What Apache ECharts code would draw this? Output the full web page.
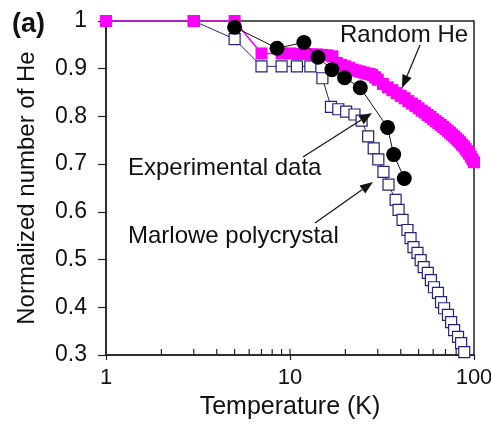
<!DOCTYPE html>
<html>
<head>
<meta charset="utf-8">
<script src="https://cdn.jsdelivr.net/npm/echarts@6/dist/echarts.min.js"></script>
<style>
  html, body { margin: 0; padding: 0; background: #fff; }
  #chart { width: 491px; height: 428px; }
</style>
</head>
<body>
<div id="chart"></div>
<script>
// Random He (filled magenta squares)
var randomT = [1, 3, 5, 7, 9, 10, 11, 12, 13, 14, 15, 16, 17, 18, 19, 20, 21, 22, 23, 24, 25, 26, 27, 28, 29, 30,
  32, 34, 36, 38, 40, 42, 44, 46, 48, 50, 52, 54, 56, 58, 60, 62, 64, 66, 68, 70, 72, 74, 76, 78, 80,
  82, 84, 86, 88, 90, 92, 94, 96, 98, 100];
var randomV = [1, 1, 1, 0.932, 0.932, 0.932, 0.931, 0.931, 0.930, 0.930, 0.929, 0.928, 0.926, 0.912, 0.908, 0.905,
  0.902, 0.898, 0.896, 0.894, 0.892, 0.890, 0.889, 0.887, 0.882, 0.877, 0.868, 0.861, 0.855, 0.849, 0.843,
  0.838, 0.832, 0.827, 0.822, 0.817, 0.812, 0.808, 0.803, 0.799, 0.794, 0.790, 0.786, 0.782, 0.778, 0.774,
  0.770, 0.766, 0.762, 0.758, 0.754, 0.750, 0.746, 0.741, 0.737, 0.732, 0.727, 0.722, 0.716, 0.710, 0.704];

// Marlowe polycrystal (open squares)
var marloweT = [1, 3, 5, 7, 9, 10.9, 12.9, 15, 16.7, 18.3, 20.2, 22.4, 24.5, 26.6, 28.5, 30.2, 32.2, 34.3,
  37.5, 38.9, 40.9, 43.5, 45.2, 46.9, 49.3, 51.3, 53.3, 56.1, 58.3, 60.6, 63.7, 66.2, 68.8, 72.2, 75.1,
  78, 81.9, 85.1, 88.5];
var marloweV = [1, 1, 0.962, 0.905, 0.905, 0.905, 0.905, 0.88, 0.82, 0.815, 0.81, 0.804, 0.791, 0.758, 0.733,
  0.71, 0.684, 0.657, 0.625, 0.604, 0.583, 0.562, 0.545, 0.526, 0.514, 0.499, 0.484, 0.472, 0.457, 0.442,
  0.43, 0.411, 0.398, 0.384, 0.369, 0.352, 0.338, 0.325, 0.306];

// Experimental data (black circles)
var expT = [5, 8.5, 11.9, 14.2, 16.9, 19.8, 24.1, 33.9, 36.6, 41.8];
var expV = [0.987, 0.943, 0.955, 0.924, 0.898, 0.881, 0.86, 0.777, 0.72, 0.67];

// minor ticks of the log axis
var minorTicks = [2, 3, 4, 5, 6, 7, 8, 9, 10, 20, 30, 40, 50, 60, 70, 80, 90];

function pairs(xs, ys) {
  return xs.map(function (x, i) { return [x, ys[i]]; });
}

var font = "'Liberation Sans', Arial, sans-serif";
var axisColor = '#222';

// arrow = line + filled head
function arrow(x1, y1, x2, y2) {
  var ang = Math.atan2(y2 - y1, x2 - x1);
  var len = 13, half = 5;
  var bx = x2 - len * Math.cos(ang), by = y2 - len * Math.sin(ang);
  var px = -Math.sin(ang) * half, py = Math.cos(ang) * half;
  return [
    {type: 'line', shape: {x1: x1, y1: y1, x2: bx, y2: by}, style: {stroke: '#111', lineWidth: 1.2}, z: 100},
    {type: 'polygon', shape: {points: [[x2, y2], [bx + px, by + py], [bx - px, by - py]]},
      style: {fill: '#111'}, z: 100}
  ];
}

function label(text, x, y) {
  return {type: 'text', x: x, y: y, z: 100,
    style: {text: text, font: '24px ' + font, fill: '#111', verticalAlign: 'middle'}};
}

var myChart = echarts.init(document.getElementById('chart'));
myChart.setOption({
  animation: false,
  grid: {
    left: 106, right: 17, top: 21, bottom: 73,
    outerBoundsMode: 'none',
    containLabel: false,
    show: true, borderColor: axisColor, borderWidth: 1.5, backgroundColor: 'transparent'
  },
  xAxis: {
    type: 'log',
    logBase: 10,
    min: 1,
    max: 100,
    name: 'Temperature (K)',
    nameLocation: 'middle',
    nameGap: 40,
    nameTextStyle: {fontSize: 25, fontFamily: font, color: '#111'},
    axisLine: {lineStyle: {color: axisColor, width: 1.5}},
    axisTick: {show: true, inside: false, length: 5, lineStyle: {color: axisColor, width: 1.2}},
    axisLabel: {fontSize: 22, fontFamily: font, color: '#111', margin: 12},
    splitLine: {show: false}
  },
  yAxis: {
    type: 'value',
    min: 0.3,
    max: 1,
    interval: 0.1,
    name: 'Normalized number of He',
    nameLocation: 'middle',
    nameGap: 67,
    nameTextStyle: {fontSize: 24, fontFamily: font, color: '#111'},
    axisLine: {show: true, lineStyle: {color: axisColor, width: 1.5}},
    axisTick: {show: true, inside: false, length: 8, lineStyle: {color: axisColor, width: 1.2}},
    axisLabel: {
      fontSize: 23, fontFamily: font, color: '#111', margin: 19,
      formatter: function (v) { return Math.abs(v - 1) < 1e-6 ? '1' : v.toFixed(1); }
    },
    splitLine: {show: false}
  },
  graphic: [
    {type: 'text', x: 12, y: 25, z: 100,
      style: {text: '(a)', font: 'bold 27px ' + font, fill: '#111', verticalAlign: 'middle'}},
    label('Random He', 340, 35),
    label('Experimental data', 128, 168),
    label('Marlowe polycrystal', 128, 236)
  ].concat(arrow(420, 45, 402, 88), arrow(303, 157, 372, 113), arrow(315, 223, 373, 182)),
  series: [
    {
      type: 'custom',
      silent: true,
      clip: false,
      z: 1,
      data: minorTicks.map(function (t) { return [t, 0.3]; }),
      renderItem: function (params, api) {
        var p = api.coord([api.value(0), api.value(1)]);
        return {type: 'line', shape: {x1: p[0], y1: p[1], x2: p[0], y2: p[1] - 6},
          style: {stroke: axisColor, lineWidth: 1.2}};
      }
    },
    {
      name: 'Marlowe polycrystal',
      type: 'line',
      z: 3,
      data: pairs(marloweT, marloweV),
      symbol: 'rect',
      symbolSize: 11,
      showAllSymbol: true,
      lineStyle: {color: '#23237a', width: 1},
      itemStyle: {color: '#fff', borderColor: '#23237a', borderWidth: 1.2}
    },
    {
      name: 'Random He',
      type: 'line',
      z: 4,
      data: pairs(randomT, randomV),
      symbol: 'rect',
      symbolSize: 12,
      showAllSymbol: true,
      lineStyle: {color: '#ff00ff', width: 1.5},
      itemStyle: {color: '#ff00ff'}
    },
    {
      name: 'Experimental data',
      type: 'line',
      z: 5,
      data: pairs(expT, expV),
      symbol: 'circle',
      symbolSize: 15,
      showAllSymbol: true,
      lineStyle: {color: '#111', width: 1},
      itemStyle: {color: '#000'}
    }
  ]
});
</script>
</body>
</html>
